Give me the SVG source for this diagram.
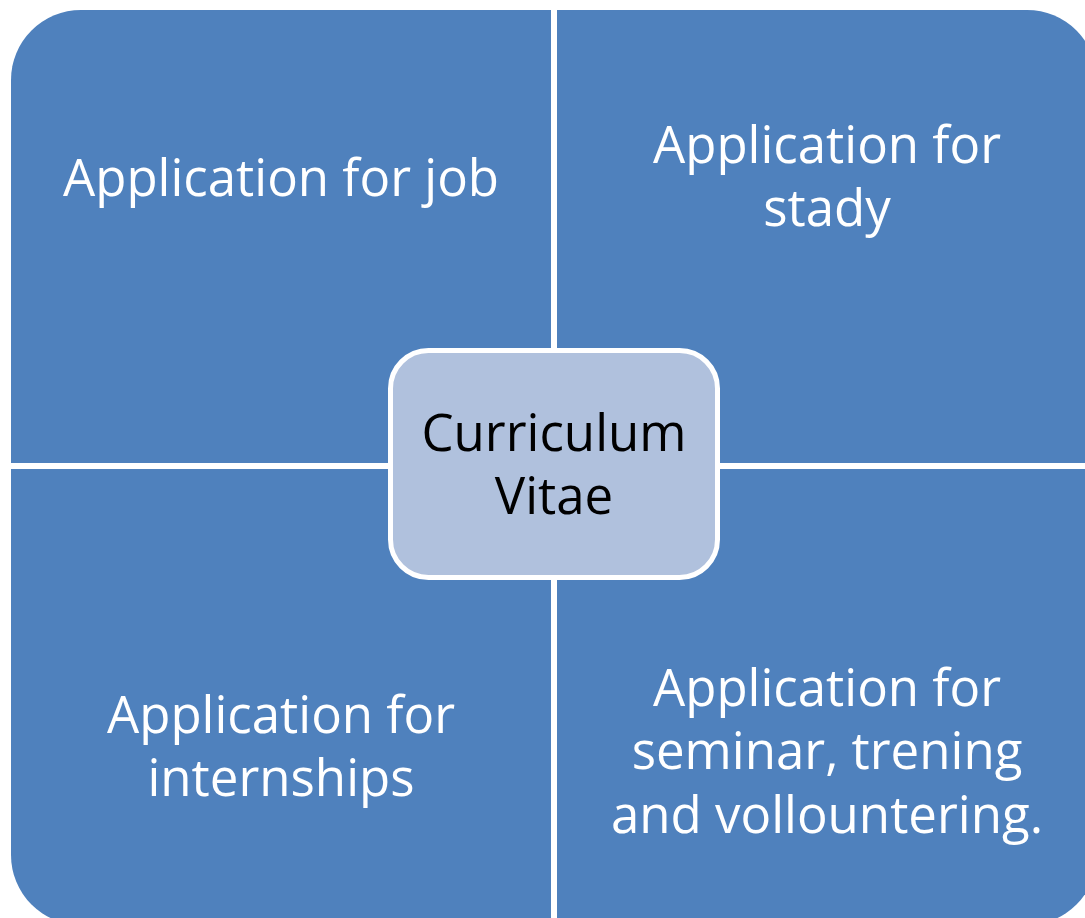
<svg xmlns="http://www.w3.org/2000/svg" width="1085" height="918" viewBox="0 0 1085 918">
<style>
.q{fill:#4F81BD}
.t{font-family:"Open Sans","Liberation Sans",sans-serif;font-size:51px;fill:#FFFFFF;text-anchor:middle}
.c{font-family:"Open Sans","Liberation Sans",sans-serif;font-size:51px;fill:#000000;text-anchor:middle}
</style>
<rect width="1085" height="918" fill="#FFFFFF"/>
<g id="job">
<path class="q" d="M11,80 A70,70 0 0 1 81,10 L551,10 L551,463 L11,463 Z"/>
<text class="t" x="281" y="196">Application for job</text>
</g>
<g id="study">
<path class="q" d="M557,10 L1027,10 A70,70 0 0 1 1097,80 L1097,463 L557,463 Z"/>
<text class="t" x="827" y="163">Application for</text>
<text class="t" x="827" y="226">stady</text>
</g>
<g id="internships">
<path class="q" d="M11,469 L551,469 L551,925 L81,925 A70,70 0 0 1 11,855 Z"/>
<text class="t" x="281" y="733">Application for</text>
<text class="t" x="281" y="796">internships</text>
</g>
<g id="seminar">
<path class="q" d="M557,469 L1097,469 L1097,855 A70,70 0 0 1 1027,925 L557,925 Z"/>
<text class="t" x="827" y="706">Application for</text>
<text class="t" x="827" y="769">seminar, trening</text>
<text class="t" x="827" y="833">and vollountering.</text>
</g>
<g id="connectors"></g>
<g id="cv">
<rect x="390.5" y="350.5" width="327" height="227" rx="38" ry="38" fill="#B0C1DD" stroke="#FFFFFF" stroke-width="5"/>
<text class="c" x="554" y="451">Curriculum</text>
<text class="c" x="554" y="514">Vitae</text>
</g>
</svg>
